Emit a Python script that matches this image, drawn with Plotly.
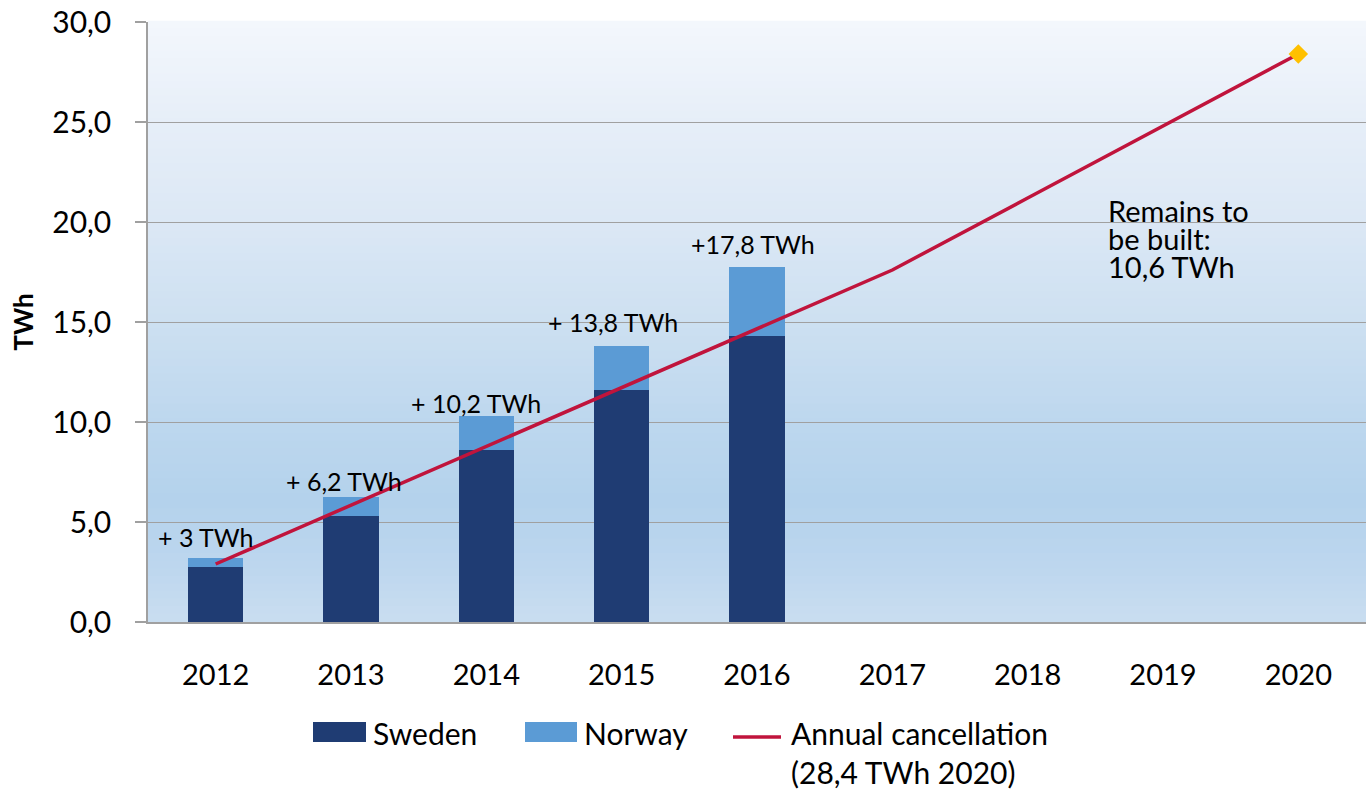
import plotly.graph_objects as go

# ---------------- data ----------------
years = ["2012", "2013", "2014", "2015", "2016", "2017", "2018", "2019", "2020"]
bar_years = ["2012", "2013", "2014", "2015", "2016"]
sweden = [2.77, 5.3, 8.6, 11.6, 14.28]
norway = [0.43, 0.95, 1.7, 2.2, 3.47]
cancellation = [2.9, 5.84, 8.78, 11.72, 14.66, 17.6, 21.2, 24.8, 28.4]
bar_labels = ["+ 3 TWh", "+ 6,2 TWh", "+ 10,2 TWh", "+ 13,8 TWh", "+17,8 TWh"]
remains_lines = ["Remains to", "be built:", "10,6 TWh"]
legend_names = ["Sweden", "Norway", "Annual cancellation", "(28,4 TWh 2020)"]

# ---------------- styles ----------------
FONT = "Lato"
C_SWE = "#1f3c73"
C_NOR = "#5b9bd5"
C_LINE = "#c0143c"
C_MARK = "#ffc000"
GRID = "#a0a0a0"
label_shift = [(-10, 21), (-7, 16), (-10, 13), (-9, 24), (-4, 23)]

# body margin is removed in the page, so figure pixels == page pixels
W, H = 1366, 791
PL, PT, PR, PB = 148, 22, 1366, 622          # plot area in page pixels
L, T = PL, PT
R = W - PR
B = H - PB
PW, PH = PR - PL, PB - PT


def px(x):
    return (x - PL) / PW


def py(y):
    return (PB - y) / PH


fig = go.Figure()

fig.add_trace(go.Bar(x=bar_years, y=sweden, name="Sweden", marker_color=C_SWE,
                     marker_line_width=0, width=0.41, showlegend=False))
fig.add_trace(go.Bar(x=bar_years, y=norway, name="Norway", marker_color=C_NOR,
                     marker_line_width=0, width=0.41, showlegend=False))
fig.add_trace(go.Scatter(x=years, y=cancellation, mode="lines", name="Annual cancellation",
                         line=dict(color=C_LINE, width=3.5), showlegend=False))
fig.add_trace(go.Scatter(x=years[-1:], y=cancellation[-1:], mode="markers",
                         marker=dict(symbol="diamond", size=15, color=C_MARK),
                         showlegend=False))

# gradient background of plot area
stops = [(0.0, (243, 247, 252)), (0.17, (230, 238, 248)), (0.33, (220, 232, 245)),
         (0.5, (205, 224, 241)), (0.67, (189, 215, 238)), (0.8, (180, 210, 236)),
         (0.9, (188, 214, 238)), (1.0, (201, 221, 240))]


def color_at(f):
    for (f0, c0), (f1, c1) in zip(stops[:-1], stops[1:]):
        if f0 <= f <= f1:
            t = (f - f0) / (f1 - f0) if f1 > f0 else 0
            return "rgb(%d,%d,%d)" % tuple(round(a + (b - a) * t) for a, b in zip(c0, c1))
    return "rgb(%d,%d,%d)" % stops[-1][1]


N = 80
shapes = []
for i in range(N):
    f = (i + 0.5) / N  # fraction from top
    shapes.append(dict(type="rect", xref="x domain", yref="y domain", x0=0, x1=1,
                       y0=1 - (i + 1) / N, y1=1 - i / N + 0.002, layer="below",
                       fillcolor=color_at(f), line_width=0))

# custom legend
shapes.append(dict(type="rect", xref="paper", yref="paper", x0=px(313), x1=px(366),
                   y0=py(742), y1=py(722), fillcolor=C_SWE, line_width=0))
shapes.append(dict(type="rect", xref="paper", yref="paper", x0=px(525), x1=px(577),
                   y0=py(742), y1=py(722), fillcolor=C_NOR, line_width=0))
shapes.append(dict(type="line", xref="paper", yref="paper", x0=px(733), x1=px(781),
                   y0=py(737), y1=py(737), line=dict(color=C_LINE, width=3.5)))

annotations = []
for i, (s, n, lab, (dx, dy)) in enumerate(zip(sweden, norway, bar_labels, label_shift)):
    annotations.append(dict(x=i, xref="x", yref="y", y=s + n, text=lab, showarrow=False,
                            xshift=dx, yshift=dy, yanchor="middle",
                            font=dict(family=FONT, size=25, color="black")))

for txt, yc in zip(remains_lines, [210, 238, 266]):
    annotations.append(dict(xref="paper", yref="paper", x=px(1106), y=py(yc), text=txt,
                            showarrow=False, xanchor="left", yanchor="middle",
                            font=dict(family=FONT, size=29, color="black")))

for txt, xl, yc in zip(legend_names, [371, 582, 789, 789], [733, 733, 733, 772]):
    annotations.append(dict(xref="paper", yref="paper", x=px(xl), y=py(yc), text=txt,
                            showarrow=False, xanchor="left", yanchor="middle",
                            font=dict(family=FONT, size=30, color="black")))

fig.update_layout(
    width=W, height=H,
    margin=dict(l=L, r=R, t=T, b=B, autoexpand=False),
    barmode="stack", bargap=0.59,
    paper_bgcolor="white", plot_bgcolor="white",
    separators=", ",
    font=dict(family=FONT, color="black"),
    shapes=shapes, annotations=annotations,
    showlegend=False,
    xaxis=dict(type="category", categoryorder="array", categoryarray=years,
               range=[-0.5, 8.5], showgrid=False, showline=True, linecolor=GRID,
               linewidth=1.5, ticks="", tickfont=dict(family=FONT, size=29, color="black"),
               ticklabelstandoff=26, fixedrange=True),
    yaxis=dict(range=[0, 30], dtick=5, tick0=0, tickformat=".1f", showgrid=True,
               gridcolor=GRID, gridwidth=1.2, showline=True, linecolor=GRID, linewidth=1.5,
               ticks="outside", ticklen=11, tickcolor=GRID, tickwidth=1.5,
               tickfont=dict(family=FONT, size=30, color="black"), ticklabelstandoff=18,
               ticklabeloverflow="allow", zeroline=False,
               title=dict(text="<b>TWh</b>", font=dict(family=FONT, size=26, color="black"),
                          standoff=11)),
)

fig.write_html("out.html", config={"displayModeBar": False},
               post_script="document.body.style.margin='0';document.body.style.overflow='hidden';")
